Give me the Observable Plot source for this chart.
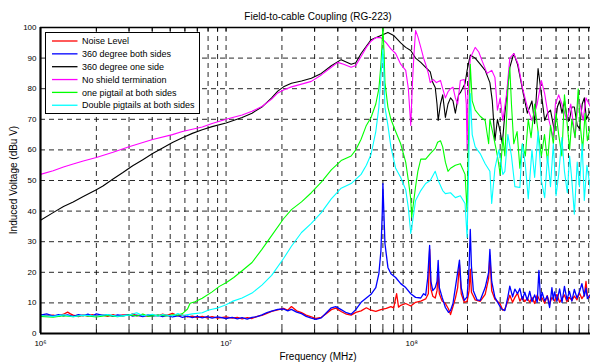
<!DOCTYPE html>
<html>
<head>
<meta charset="utf-8">
<script src="https://cdn.jsdelivr.net/npm/d3@7"></script>
<script src="https://cdn.jsdelivr.net/npm/@observablehq/plot@0.6"></script>
<style>
  html, body { margin: 0; padding: 0; background: #fff; }
  #chart svg { display: block; }
</style>
</head>
<body>
<div id="chart"></div>
<script>
const titleText = "Field-to-cable Coupling (RG-223)";
const xLabel = "Frequency (MHz)";
const yLabel = "Induced Voltage (dBu V)";
const seriesNames = ["Noise Level","360 degree both sides","360 degree one side","No shield termination","one pigtail at both sides","Double pigtails at both sides"];
const seriesColors = ["#ff0000","#0000ff","#000000","#ff00ff","#00ff00","#00ffff"];
const xMajorTicks = [1e6, 1e7, 1e8];
const xTickLabels = ["10\u2076", "10\u2077", "10\u2078"];
const yTicks = [0,10,20,30,40,50,60,70,80,90,100];

const noiseLevel = [[1.0e6,6.2],[1.08e6,5.8],[1.17e6,6.0],[1.25e6,5.6],[1.33e6,6.3],[1.4e6,7.0],[1.45e6,6.4],[1.5e6,6.0],[1.6e6,5.5],[1.7e6,6.1],[1.8e6,5.7],[1.9e6,6.2],[2.0e6,5.8],[2.17e6,6.0],[2.3e6,5.6],[2.46e6,6.2],[2.6e6,5.7],[2.78e6,6.1],[3.0e6,5.9],[3.14e6,6.4],[3.3e6,5.8],[3.56e6,6.0],[3.8e6,5.6],[4.02e6,6.1],[4.3e6,5.7],[4.55e6,6.3],[4.8e6,5.9],[5.14e6,6.6],[5.5e6,5.8],[5.82e6,6.0],[6.2e6,5.4],[6.58e6,5.7],[7.0e6,5.2],[7.44e6,5.6],[7.9e6,5.1],[8.41e6,5.5],[9.0e6,5.0],[1.0e7,5.4],[1.08e7,5.0],[1.15e7,5.3],[1.22e7,4.8],[1.3e7,5.2],[1.38e7,4.9],[1.47e7,5.6],[1.56e7,5.9],[1.66e7,6.6],[1.76e7,7.2],[1.9e7,7.7],[2.04e7,8.2],[2.15e7,7.6],[2.25e7,8.8],[2.4e7,7.4],[2.55e7,6.8],[2.7e7,6.0],[2.88e7,5.4],[3.05e7,4.9],[3.26e7,5.3],[3.45e7,6.4],[3.69e7,7.8],[3.9e7,8.3],[4.17e7,7.2],[4.45e7,6.3],[4.72e7,6.0],[5.0e7,6.9],[5.34e7,7.4],[5.7e7,8.4],[6.04e7,7.6],[6.41e7,7.2],[6.83e7,7.8],[7.3e7,8.2],[7.73e7,8.8],[8.0e7,8.4],[8.3e7,13.0],[8.5e7,8.6],[8.73e7,9.2],[9.29e7,9.8],[9.89e7,9.0],[1.05e8,10.2],[1.12e8,10.6],[1.19e8,11.3],[1.23e8,13],[1.25e8,27.5],[1.27e8,14.5],[1.3e8,12.2],[1.34e8,11.6],[1.37e8,14],[1.39e8,20],[1.41e8,13],[1.46e8,10.6],[1.52e8,9.8],[1.58e8,8.0],[1.62e8,6.2],[1.67e8,8.8],[1.72e8,11.5],[1.77e8,15],[1.81e8,22.5],[1.85e8,13],[1.92e8,10.2],[1.99e8,10.5],[2.04e8,14],[2.07e8,21],[2.1e8,13.5],[2.2e8,11.0],[2.34e8,10.5],[2.49e8,12.8],[2.6e8,18],[2.64e8,25.5],[2.7e8,14],[2.81e8,11.2],[2.99e8,9.8],[3.1e8,7.6],[3.18e8,8.0],[3.3e8,10.5],[3.38e8,12.5],[3.5e8,10.2],[3.6e8,11.8],[3.72e8,13.2],[3.83e8,10.6],[3.95e8,12],[4.07e8,10.4],[4.2e8,11.6],[4.33e8,10.2],[4.45e8,11.8],[4.6e8,9.8],[4.75e8,12.6],[4.9e8,10.8],[5.05e8,11.6],[5.21e8,9.9],[5.38e8,12.4],[5.54e8,9.6],[5.7e8,11.8],[5.89e8,10.6],[6.07e8,12.8],[6.27e8,10.2],[6.46e8,11.4],[6.66e8,12.6],[6.87e8,10.4],[7.08e8,11.8],[7.3e8,10.8],[7.53e8,12.2],[7.78e8,11.0],[8.02e8,13.2],[8.27e8,11.4],[8.52e8,12.6],[8.7e8,17],[8.85e8,12.4],[9.2e8,11.6]];

const bothSides360 = [[1.0e6,6.0],[1.08e6,6.4],[1.17e6,5.7],[1.25e6,6.2],[1.33e6,5.8],[1.4e6,6.1],[1.5e6,5.6],[1.6e6,6.2],[1.7e6,5.8],[1.8e6,6.3],[1.9e6,5.7],[2.0e6,6.4],[2.17e6,5.9],[2.3e6,6.2],[2.46e6,5.6],[2.6e6,6.1],[2.78e6,5.8],[3.0e6,6.2],[3.14e6,5.7],[3.3e6,6.0],[3.56e6,5.5],[3.8e6,6.1],[4.02e6,5.7],[4.3e6,6.0],[4.55e6,5.5],[4.8e6,5.9],[5.14e6,5.4],[5.5e6,5.8],[5.82e6,5.3],[6.2e6,5.7],[6.58e6,5.2],[7.0e6,5.6],[7.44e6,5.1],[7.9e6,5.5],[8.41e6,5.0],[9.0e6,5.4],[1.0e7,4.9],[1.08e7,5.3],[1.15e7,4.8],[1.22e7,5.2],[1.3e7,4.7],[1.38e7,5.3],[1.47e7,5.5],[1.56e7,6.1],[1.66e7,6.8],[1.76e7,7.3],[1.9e7,7.9],[2.04e7,8.0],[2.15e7,7.4],[2.25e7,7.9],[2.4e7,7.0],[2.55e7,6.5],[2.7e7,5.6],[2.88e7,5.0],[3.05e7,4.6],[3.26e7,5.1],[3.45e7,6.6],[3.69e7,8.4],[3.9e7,8.8],[4.17e7,7.8],[4.45e7,6.8],[4.72e7,6.3],[5.0e7,7.8],[5.34e7,10.2],[5.7e7,11.6],[6.04e7,12.8],[6.41e7,15],[6.66e7,19.6],[6.83e7,27],[6.95e7,40],[7.0e7,49],[7.08e7,40],[7.18e7,29.4],[7.45e7,21.6],[7.73e7,19.5],[8.2e7,18.3],[8.73e7,16.3],[9.29e7,15],[9.89e7,13],[1.05e8,11.8],[1.12e8,11.6],[1.16e8,13],[1.19e8,12.5],[1.22e8,18],[1.25e8,28.8],[1.27e8,17],[1.3e8,14],[1.34e8,15],[1.37e8,17],[1.39e8,23.9],[1.41e8,15],[1.46e8,11.8],[1.52e8,8.5],[1.58e8,6.9],[1.62e8,7.5],[1.67e8,9.8],[1.72e8,15],[1.77e8,20],[1.81e8,24],[1.85e8,15],[1.92e8,10.8],[1.99e8,12],[2.04e8,22],[2.07e8,34],[2.1e8,22],[2.15e8,14],[2.25e8,11.0],[2.34e8,10.8],[2.49e8,15],[2.6e8,20],[2.64e8,27.5],[2.7e8,17],[2.81e8,11.8],[2.95e8,9.5],[3.05e8,8.0],[3.18e8,7.5],[3.3e8,12],[3.38e8,15.5],[3.5e8,12],[3.6e8,14.5],[3.72e8,13],[3.83e8,14.7],[3.95e8,11],[4.07e8,13.5],[4.2e8,10.8],[4.33e8,13.8],[4.45e8,10.4],[4.6e8,12.6],[4.75e8,10.2],[4.85e8,20.6],[4.95e8,11],[5.05e8,13.4],[5.21e8,10.6],[5.38e8,12.2],[5.54e8,8.5],[5.7e8,15],[5.8e8,11],[5.89e8,13.6],[6.07e8,10.6],[6.27e8,14.6],[6.46e8,10.2],[6.66e8,15.4],[6.87e8,11],[7.08e8,13.8],[7.3e8,10.6],[7.53e8,14.4],[7.78e8,11.6],[8.02e8,13.6],[8.27e8,16.3],[8.52e8,12.2],[8.7e8,14.8],[8.85e8,11.4],[9.2e8,12.8]];

const oneSide360 = [[1.0e6,37],[1.17e6,39.5],[1.33e6,41.5],[1.5e6,43],[1.7e6,44.8],[2.0e6,47],[2.17e6,48.2],[2.46e6,50.5],[2.78e6,52.6],[3.14e6,54.8],[3.56e6,56.8],[4.02e6,58.8],[4.55e6,60.6],[5.14e6,62.4],[5.82e6,64],[6.58e6,65.4],[7.44e6,66.6],[8.41e6,67.6],[1.0e7,68.8],[1.22e7,70.6],[1.38e7,72],[1.56e7,74],[1.76e7,77],[1.9e7,79.2],[2.04e7,80.6],[2.25e7,81.8],[2.55e7,82.5],[2.88e7,83.4],[3.26e7,85],[3.69e7,87.5],[4.17e7,89.5],[4.5e7,88.6],[4.72e7,88],[5.0e7,88.5],[5.34e7,91.5],[6.04e7,96],[6.83e7,97.4],[7.45e7,98.4],[8.0e7,97.4],[8.73e7,95],[9.29e7,93.5],[9.89e7,92.5],[1.05e8,90],[1.12e8,88.6],[1.19e8,87],[1.26e8,85.5],[1.3e8,82],[1.34e8,80.4],[1.37e8,75],[1.39e8,69.6],[1.43e8,75],[1.47e8,78],[1.52e8,70.6],[1.57e8,75],[1.62e8,77],[1.67e8,76],[1.72e8,72],[1.79e8,78],[1.83e8,78.7],[1.94e8,81.7],[1.99e8,86],[2.07e8,91],[2.2e8,90],[2.34e8,88],[2.49e8,86],[2.64e8,82],[2.72e8,76],[2.81e8,63],[2.9e8,70],[3.0e8,66],[3.08e8,62],[3.18e8,72],[3.38e8,87],[3.55e8,91.5],[3.72e8,88],[3.95e8,80],[4.2e8,72],[4.45e8,76],[4.6e8,68.6],[4.8e8,86.6],[5.0e8,78.4],[5.21e8,69.6],[5.4e8,72],[5.6e8,73],[5.89e8,66],[6.1e8,74],[6.27e8,76],[6.46e8,72],[6.66e8,76],[6.9e8,70],[7.08e8,69.6],[7.3e8,74],[7.53e8,74],[7.8e8,68],[8.02e8,67],[8.3e8,75],[8.52e8,77],[8.75e8,70],[9.2e8,73]];

const noShield = [[1.0e6,52],[1.17e6,53.2],[1.33e6,54.4],[1.5e6,55.4],[1.7e6,56.4],[2.0e6,57.5],[2.46e6,59.2],[3.0e6,61],[3.56e6,62.4],[4.02e6,63.4],[5.14e6,65],[5.82e6,66],[7.44e6,67.5],[8.41e6,68.6],[1.0e7,70],[1.22e7,71.4],[1.38e7,72.6],[1.56e7,74.2],[1.76e7,76.6],[1.9e7,78.6],[2.04e7,79.6],[2.25e7,80.6],[2.55e7,81.5],[2.88e7,82.4],[3.26e7,84.5],[3.69e7,87],[4.0e7,88.6],[4.3e7,88],[4.72e7,87],[5.0e7,87.6],[5.34e7,90.5],[5.7e7,93.5],[6.04e7,95.5],[6.41e7,96.7],[6.83e7,96.7],[7.3e7,95],[7.73e7,93],[8.2e7,91.5],[8.73e7,88],[9.29e7,86],[9.6e7,80],[9.89e7,68],[1.01e8,82],[1.03e8,91.5],[1.05e8,99],[1.08e8,97],[1.12e8,93.5],[1.16e8,90],[1.19e8,88],[1.23e8,85],[1.26e8,82],[1.31e8,83],[1.36e8,82],[1.43e8,82.7],[1.47e8,80],[1.52e8,77],[1.57e8,79],[1.62e8,80],[1.67e8,80.5],[1.72e8,77],[1.77e8,75],[1.83e8,82.7],[1.92e8,83],[1.97e8,75],[1.99e8,60],[2.01e8,78],[2.07e8,90],[2.2e8,93.5],[2.3e8,92],[2.4e8,89],[2.55e8,85],[2.7e8,86],[2.81e8,83.7],[2.9e8,73],[3.0e8,77],[3.1e8,69.6],[3.25e8,78.4],[3.38e8,90],[3.55e8,91.5],[3.75e8,88],[3.95e8,80.4],[4.2e8,74],[4.45e8,69.6],[4.75e8,75],[5.0e8,82.7],[5.21e8,78.4],[5.5e8,69.6],[5.8e8,64],[5.95e8,75],[6.2e8,78],[6.45e8,75],[6.87e8,69.6],[7.2e8,75],[7.6e8,64],[7.9e8,77],[8.15e8,74],[8.4e8,69.6],[8.7e8,77],[9.2e8,74]];

const onePigtail = [[1.0e6,5.6],[1.17e6,5.3],[1.33e6,5.8],[1.5e6,5.5],[1.7e6,5.9],[2.0e6,5.4],[2.3e6,5.9],[2.6e6,5.5],[3.0e6,6.1],[3.3e6,5.7],[3.56e6,6.4],[3.8e6,5.6],[4.3e6,6.0],[4.8e6,5.7],[5.14e6,6.1],[5.5e6,6.0],[5.82e6,6.5],[6.2e6,8.0],[6.4e6,9.9],[6.8e6,10.4],[7.44e6,11.5],[8.41e6,13.6],[9.2e6,15.4],[1.0e7,16.6],[1.1e7,18.3],[1.22e7,20.5],[1.38e7,23.2],[1.56e7,27.5],[1.76e7,32],[2.04e7,37.5],[2.25e7,40.5],[2.55e7,43],[2.88e7,46],[3.26e7,49.5],[3.69e7,53.5],[4.17e7,56.5],[4.72e7,58],[5.0e7,60],[5.34e7,63.5],[5.7e7,68],[6.04e7,70.6],[6.41e7,75],[6.66e7,80],[6.83e7,88],[7.0e7,100],[7.1e7,92],[7.18e7,82],[7.45e7,74],[7.73e7,70],[8.2e7,66],[8.73e7,62],[9.29e7,56],[9.6e7,50],[9.89e7,44],[1.0e8,38],[1.02e8,42],[1.05e8,48],[1.08e8,53],[1.12e8,57],[1.19e8,57],[1.26e8,58.8],[1.34e8,60.5],[1.38e8,62.5],[1.43e8,63],[1.47e8,61],[1.52e8,56],[1.57e8,53],[1.62e8,54],[1.72e8,55],[1.83e8,55.5],[1.94e8,52],[1.99e8,40],[2.02e8,60],[2.07e8,88],[2.12e8,76],[2.2e8,73],[2.34e8,71],[2.49e8,69.6],[2.6e8,62],[2.64e8,70],[2.75e8,65],[2.9e8,58],[3.0e8,52],[3.1e8,64],[3.18e8,58],[3.3e8,80],[3.38e8,87],[3.45e8,75],[3.55e8,62],[3.7e8,66],[3.83e8,54],[3.95e8,62],[4.1e8,58],[4.25e8,70],[4.4e8,64],[4.6e8,75],[4.8e8,66],[5.0e8,58],[5.2e8,65],[5.4e8,56],[5.6e8,68],[5.8e8,62],[6.0e8,72],[6.2e8,65],[6.45e8,58],[6.66e8,78],[6.9e8,68],[7.1e8,60],[7.3e8,70],[7.6e8,64],[7.9e8,80],[8.1e8,68],[8.35e8,60],[8.6e8,72],[8.85e8,63],[9.2e8,68]];

const doublePigtails = [[1.0e6,5.9],[1.17e6,5.6],[1.33e6,6.1],[1.5e6,5.5],[1.7e6,6.0],[2.0e6,5.7],[2.3e6,6.2],[2.6e6,5.6],[3.0e6,6.0],[3.3e6,6.8],[3.56e6,5.8],[4.02e6,6.3],[4.3e6,5.6],[4.55e6,6.2],[5.14e6,5.7],[5.5e6,6.5],[5.82e6,5.9],[6.58e6,6.4],[7.44e6,6.8],[8.0e6,7.6],[8.41e6,7.9],[9.0e6,8.3],[1.0e7,9.4],[1.08e7,10.5],[1.22e7,11.6],[1.38e7,13.2],[1.56e7,15.8],[1.76e7,19],[2.04e7,24.5],[2.25e7,28.5],[2.55e7,33],[2.88e7,36],[3.26e7,39.5],[3.69e7,44],[4.17e7,47.5],[4.72e7,49],[5.34e7,52],[5.7e7,55],[6.04e7,58.5],[6.41e7,66],[6.66e7,74],[6.83e7,84],[7.0e7,93],[7.1e7,84],[7.18e7,74],[7.45e7,68],[7.73e7,61],[8.2e7,54],[8.73e7,51],[9.29e7,47],[9.6e7,41],[9.89e7,32.7],[1.02e8,38],[1.05e8,43.5],[1.12e8,46.7],[1.19e8,49],[1.26e8,50],[1.34e8,53],[1.39e8,50],[1.47e8,46.7],[1.52e8,45.7],[1.62e8,46],[1.72e8,44.4],[1.83e8,45],[1.94e8,42.5],[1.99e8,31.4],[2.03e8,55],[2.07e8,78.4],[2.12e8,65],[2.2e8,61],[2.34e8,58.8],[2.49e8,55.5],[2.64e8,53],[2.7e8,42.5],[2.81e8,54],[2.95e8,60],[3.1e8,52],[3.18e8,53],[3.3e8,65],[3.45e8,58],[3.6e8,48],[3.83e8,47.7],[3.95e8,62],[4.1e8,55],[4.25e8,44],[4.45e8,60],[4.6e8,51],[4.8e8,66],[5.0e8,50],[5.21e8,44.4],[5.4e8,58],[5.6e8,48],[5.8e8,62],[6.0e8,45],[6.2e8,52],[6.45e8,64],[6.66e8,53],[6.9e8,46],[7.1e8,58],[7.3e8,50],[7.53e8,39],[7.8e8,56],[8.02e8,48],[8.3e8,62],[8.52e8,43.5],[8.8e8,55],[9.2e8,47]];

const seriesData = [noiseLevel, bothSides360, oneSide360, noShield, onePigtail, doublePigtails];

// grid positions (1..9 per decade)
const xGrid = [];
for (const e of [1e6, 1e7, 1e8]) for (let k = 1; k <= 9; k++) xGrid.push(k * e);
const xGridInner = xGrid.filter(v => v > 1e6);
const yGridInner = yTicks.filter(v => v > 0 && v < 100);

const W = 590, H = 364, mL = 40, mR = 0, mT = 27, mB = 31;
const font = "'Liberation Sans', Arial, Helvetica, sans-serif";

const lineMarks = seriesData.map((d, i) =>
  Plot.line(d, {x: p => p[0], y: p => p[1], stroke: seriesColors[i], strokeWidth: i < 2 ? 1.3 : 1.1, clip: true})
);

const gridStyle = {stroke: "#111", strokeWidth: 0.9, strokeDasharray: "5,4"};

const chart = Plot.plot({
  width: W, height: H,
  marginLeft: mL, marginRight: mR, marginTop: mT, marginBottom: mB,
  style: {fontFamily: font, fontSize: "8px", background: "white", color: "black"},
  x: {type: "log", domain: [1e6, 9.2e8]},
  y: {domain: [0, 100]},
  marks: [
    Plot.ruleX(xGridInner, {x: d => d, y1: 100, y2: 0, ...gridStyle}),
    Plot.ruleY(yGridInner, {y: d => d, x1: 1e6, x2: 9.2e8, ...gridStyle}),
    Plot.ruleX(xGridInner, {x: d => d, y1: 0, y2: 1.3, stroke: "#000", strokeWidth: 1}),
    Plot.ruleX(xGridInner, {x: d => d, y1: 98.7, y2: 100, stroke: "#000", strokeWidth: 1}),
    ...lineMarks,
    Plot.ruleY([100], {y: d => d, stroke: "#000", strokeWidth: 1.3}),
    Plot.ruleY([0], {y: d => d, stroke: "#000", strokeWidth: 2.2}),
    Plot.ruleX([1e6], {x: d => d, stroke: "#000", strokeWidth: 2.2}),
    Plot.axisY({ticks: yTicks, tickSize: 0, tickPadding: 4, label: null, fontSize: 8}),
    Plot.axisX({ticks: xMajorTicks, tickSize: 0, tickPadding: 7, label: null, fontSize: 8,
      tickFormat: v => xTickLabels[xMajorTicks.indexOf(v)]})
  ]
});

const svg = d3.select(chart);
// title & axis labels
svg.append("text").attr("x", 318).attr("y", 19.5).attr("text-anchor", "middle")
  .attr("font-family", font).attr("font-size", 10).attr("fill", "#000").text(titleText);
svg.append("text").attr("x", 318).attr("y", 360).attr("text-anchor", "middle")
  .attr("font-family", font).attr("font-size", 10).attr("fill", "#000").text(xLabel);
svg.append("text").attr("transform", "translate(17,180) rotate(-90)").attr("text-anchor", "middle")
  .attr("font-family", font).attr("font-size", 10).attr("fill", "#000").text(yLabel);

// legend
const lg = svg.append("g");
lg.append("rect").attr("x", 45.5).attr("y", 32.5).attr("width", 154).attr("height", 81)
  .attr("fill", "white").attr("stroke", "#000").attr("stroke-width", 1);
seriesNames.forEach((name, i) => {
  const yy = 41 + i * 12.85;
  lg.append("line").attr("x1", 52).attr("x2", 77.5).attr("y1", yy).attr("y2", yy)
    .attr("stroke", seriesColors[i]).attr("stroke-width", 1.3);
  lg.append("text").attr("x", 82).attr("y", yy).attr("dy", "0.35em").attr("text-anchor", "start")
    .attr("font-family", font).attr("font-size", 9).attr("fill", "#000").text(name);
});

document.getElementById("chart").appendChild(chart);
</script>
</body>
</html>
